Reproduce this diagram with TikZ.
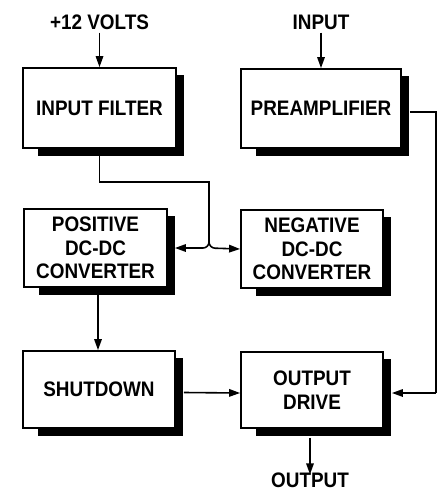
\documentclass[tikz,border=0pt]{standalone}
\usepackage{fontspec}
\setmainfont{Liberation Sans}[FakeStretch=0.9]
\usetikzlibrary{arrows.meta,backgrounds}
\newcommand\blkshadow[1]{\fill ([xshift=16pt,yshift=-7pt]#1.south west) rectangle ([xshift=7pt,yshift=-8pt]#1.north east);}
\begin{document}
\begin{tikzpicture}[x=1pt,y=-1pt,
  font=\fontsize{21}{23.5}\selectfont\bfseries,
  blk/.style={draw, line width=1.8pt, fill=white, inner sep=0pt, align=center},
  lbl/.style={inner sep=0pt},
  wire/.style={line width=1.6pt},
  arr/.style={wire, -{Triangle[length=11pt,width=7.5pt]}}]
\useasboundingbox (0,0) rectangle (438,493);
% blocks
\node[blk, minimum width=153pt, minimum height=80pt] (IF) at (99.5,108) {INPUT FILTER};
\node[blk, minimum width=160pt, minimum height=79pt] (PRE) at (321,108.5) {PREAMPLIFIER};
\node[blk, minimum width=143pt, minimum height=78pt] (POS) at (95.5,248) {POSITIVE\\DC-DC\\CONVERTER};
\node[blk, minimum width=142pt, minimum height=78pt] (NEG) at (312,249) {NEGATIVE\\DC-DC\\CONVERTER};
\node[blk, minimum width=152pt, minimum height=77pt] (SD) at (99,389.5) {SHUTDOWN};
\node[blk, minimum width=142pt, minimum height=76pt] (OD) at (312,390) {OUTPUT\\DRIVE};
\begin{scope}[on background layer]
  \blkshadow{IF}\blkshadow{PRE}\blkshadow{POS}\blkshadow{NEG}\blkshadow{SD}\blkshadow{OD}
\end{scope}
% labels
\node[lbl] (v12) at (99.5,22) {+12 VOLTS};
\node[lbl] (inp) at (321,22) {INPUT};
\node[lbl] (outp) at (310,480) {OUTPUT};
% coordinates
\coordinate (k1) at (209,182);
\coordinate (jtop) at (209,234);
\coordinate (jn) at (209,248);
\coordinate (fb) at (436,112);
\coordinate (fb2) at (436,393);
% connectors
\draw[arr] ([yshift=-3pt]v12.south) -- (IF.north);
\draw[arr] ([yshift=-3pt]inp.south) -- (PRE.north);
\draw[wire] (IF.south) |- (k1) -- (jtop);
\draw[arr, rounded corners=6pt] (jtop) -- (jn) -- ([xshift=7pt]POS.east);
\draw[arr, rounded corners=6pt] (jtop) -- (jn) -- (NEG.west);
\draw[arr] ([xshift=2.5pt]POS.south) -- ([xshift=2.5pt]POS.south |- SD.north);
\draw[arr] ([xshift=8pt,yshift=-3pt]SD.east) -- ([yshift=-3pt]OD.west);
\draw[wire] ([xshift=8pt]PRE.east |- fb) -- (fb) -- (fb2);
\draw[arr] (fb2) -- ([xshift=8pt]OD.east |- fb2);
\draw[arr] ([xshift=-2pt,yshift=-9pt]OD.south) -- ([xshift=-2pt,yshift=-2pt]OD.south |- outp.north);
\end{tikzpicture}
\end{document}
